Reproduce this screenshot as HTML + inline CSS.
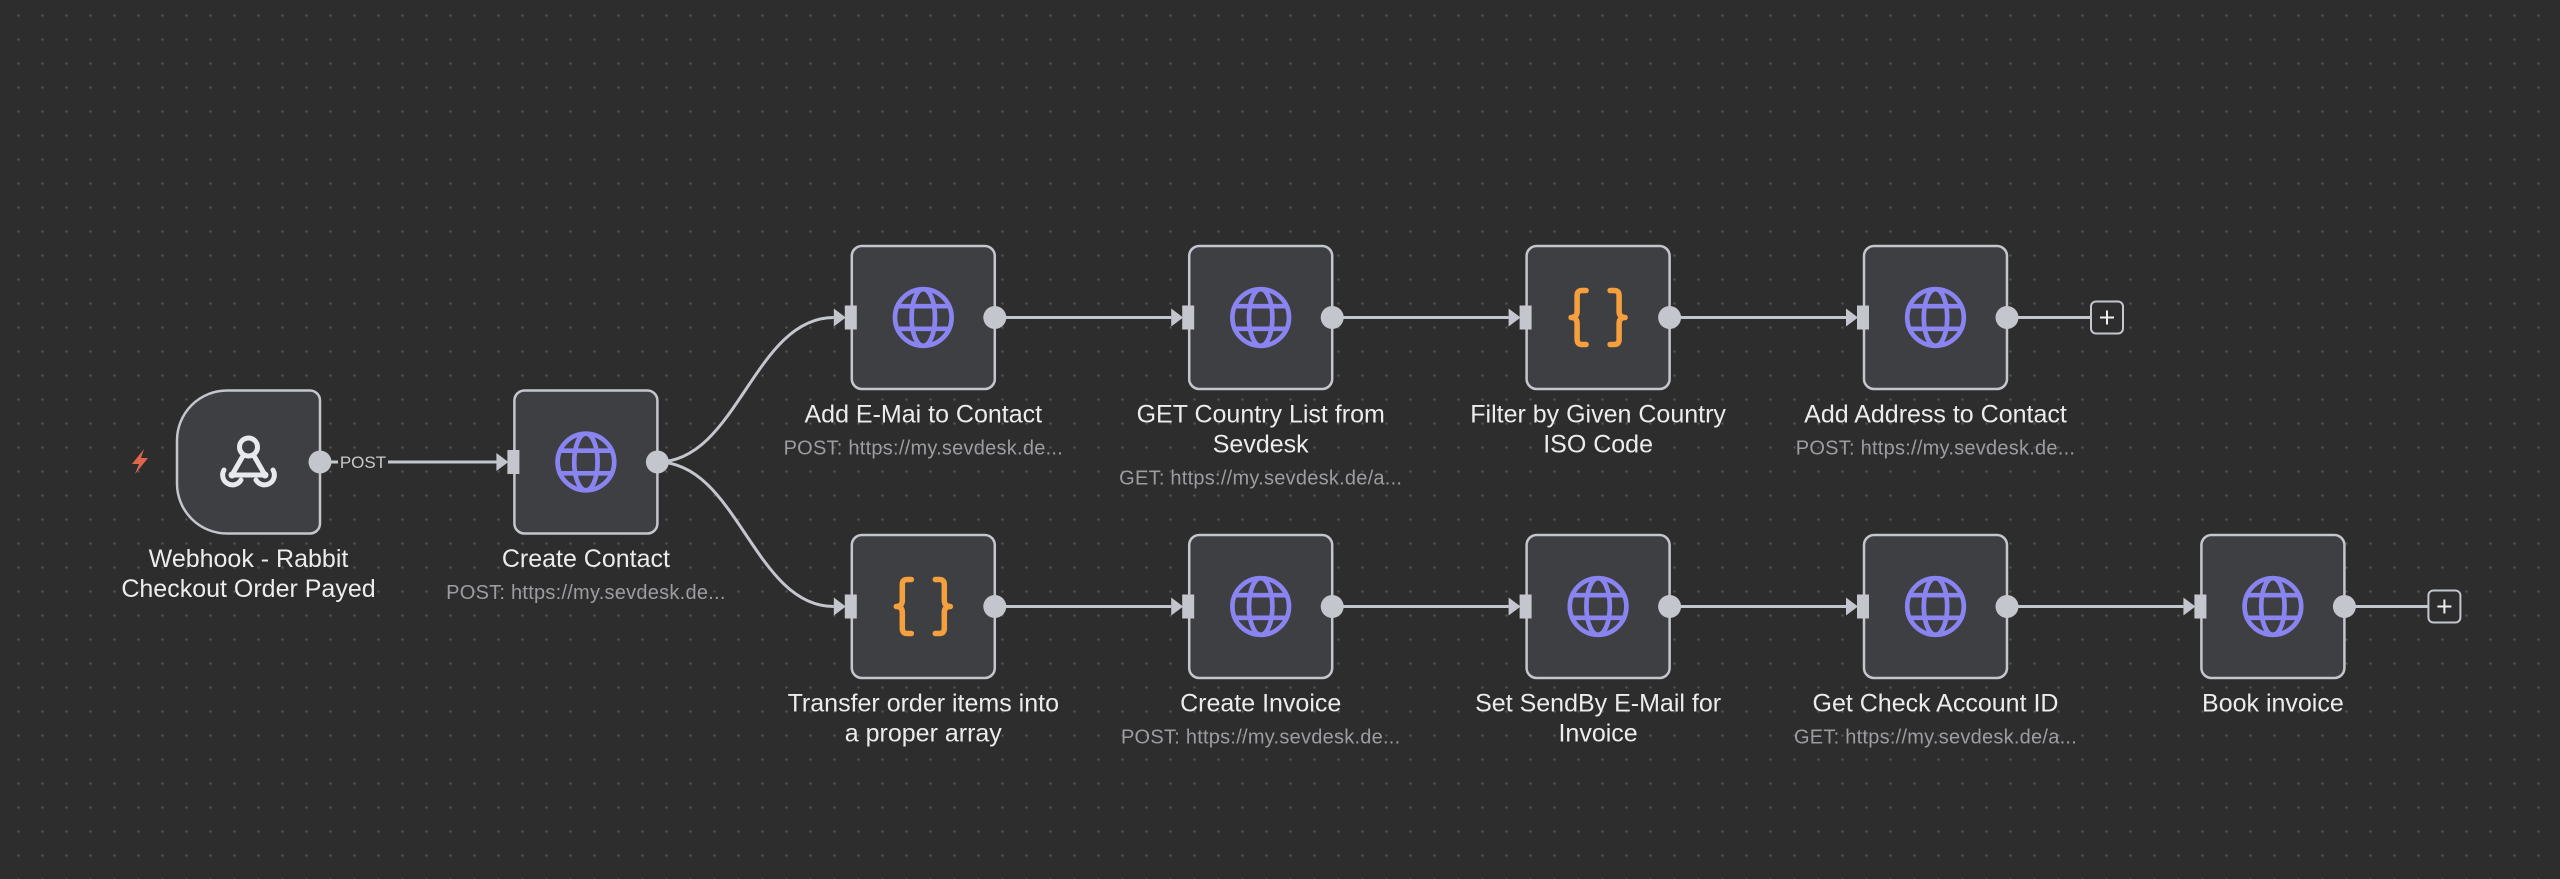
<!DOCTYPE html>
<html>
<head>
<meta charset="utf-8">
<style>
  html, body { margin:0; padding:0; background:#2d2d2d; }
  body { width:2560px; height:879px; overflow:hidden; }
  svg { display:block; }
  .t { font-family:"Liberation Sans", Arial, sans-serif; font-size:25px; fill:#ececec; text-anchor:middle; }
  .s { font-family:"Liberation Sans", Arial, sans-serif; font-size:20px; fill:#9c9ca1; text-anchor:middle; letter-spacing:0.25px; }
  .lbl { font-family:"Liberation Sans", Arial, sans-serif; font-size:17px; fill:#c9c9cc; text-anchor:middle; }
</style>
</head>
<body>
<svg width="2560" height="879" viewBox="0 0 2560 879" xmlns="http://www.w3.org/2000/svg">
  <defs>
    <pattern id="dots" x="0" y="0" width="24" height="24" patternUnits="userSpaceOnUse">
      <rect x="17.5" y="14.5" width="2" height="2" fill="#595959"/>
    </pattern>
    <g id="globe" fill="none" stroke="#8a84f0" stroke-width="4.7">
      <circle cx="0" cy="0" r="28.3"/>
      <ellipse cx="0" cy="0" rx="11.7" ry="28.3"/>
      <line x1="-26" y1="-11.3" x2="26" y2="-11.3"/>
      <line x1="-26" y1="11.3" x2="26" y2="11.3"/>
    </g>
    <g id="braces" fill="none" stroke="#f5a03c" stroke-width="5.5" stroke-linecap="round" stroke-linejoin="round">
      <path d="M -12,-27 L -16,-27 Q -21,-27 -21,-22 L -21,-6 Q -21,0 -27,0 Q -21,0 -21,6 L -21,22 Q -21,27 -16,27 L -12,27"/>
      <path d="M 12,-27 L 16,-27 Q 21,-27 21,-22 L 21,-6 Q 21,0 27,0 Q 21,0 21,6 L 21,22 Q 21,27 16,27 L 12,27"/>
    </g>
    <g id="inh" fill="#c4c6cd">
      <rect x="-7" y="-12" width="12" height="24"/>
      <polygon points="-18,-9 -6,0 -18,9"/>
    </g>
    <g id="plus">
      <rect x="0" y="-16" width="32" height="32" rx="5" ry="5" fill="#2d2d2d" stroke="#c4c6cd" stroke-width="2"/>
      <line x1="9" y1="0" x2="23" y2="0" stroke="#f0f0f0" stroke-width="2"/>
      <line x1="16" y1="-7" x2="16" y2="7" stroke="#f0f0f0" stroke-width="2"/>
    </g>
  </defs>

  <rect width="2560" height="879" fill="#2d2d2d"/>
  <rect width="2560" height="879" fill="url(#dots)"/>

  <!-- connectors -->
  <g fill="none" stroke="#c4c6cd" stroke-width="3">
    <line x1="320" y1="462" x2="497" y2="462"/>
    <path d="M 657.4,462 C 737.4,462 753.8,317.5 833.8,317.5"/>
    <path d="M 657.4,462 C 737.4,462 753.8,606.5 833.8,606.5"/>
    <!-- top row -->
    <line x1="994.8" y1="317.5" x2="1171.2" y2="317.5"/>
    <line x1="1332.2" y1="317.5" x2="1508.6" y2="317.5"/>
    <line x1="1669.6" y1="317.5" x2="1846" y2="317.5"/>
    <line x1="2007" y1="317.5" x2="2091" y2="317.5"/>
    <!-- bottom row -->
    <line x1="994.8" y1="606.5" x2="1171.2" y2="606.5"/>
    <line x1="1332.2" y1="606.5" x2="1508.6" y2="606.5"/>
    <line x1="1669.6" y1="606.5" x2="1846" y2="606.5"/>
    <line x1="2007" y1="606.5" x2="2183.4" y2="606.5"/>
    <line x1="2344.4" y1="606.5" x2="2428.4" y2="606.5"/>
  </g>

  <!-- POST label -->
  <rect x="338" y="451" width="50" height="22" fill="#2d2d2d"/>
  <text class="lbl" x="363" y="468">POST</text>

  <!-- plus boxes -->
  <use href="#plus" x="2091" y="317.5"/>
  <use href="#plus" x="2428.4" y="606.5"/>

  <!-- lightning -->
  <polygon points="144,449 132,464 139,464 135,474 148,458 141,458" fill="#e0654d"/>

  <!-- webhook node -->
  <path d="M 227,390.5 H 310 A 10 10 0 0 1 320,400.5 V 523.5 A 10 10 0 0 1 310,533.5 H 227 A 50 50 0 0 1 177,483.5 V 440.5 A 50 50 0 0 1 227,390.5 Z" fill="#3e3f43" stroke="#c4c6cd" stroke-width="2.5"/>
  <g fill="none" stroke="#e8e9ee" stroke-width="5" stroke-linecap="round">
    <circle cx="248.5" cy="447" r="9"/>
    <path d="M 243.5,455 L 232,475"/>
    <path d="M 253.5,455 L 265,475"/>
    <path d="M 232,475 L 265,475"/>
    <path d="M 224,470 A 9.5 9.5 0 1 0 241,480"/>
    <path d="M 273,470 A 9.5 9.5 0 1 1 256,480"/>
  </g>
  <circle cx="232" cy="475" r="3.5" fill="#e8e9ee"/>
  <circle cx="265" cy="475" r="3.5" fill="#e8e9ee"/>

  <!-- regular nodes -->
  <g fill="#3e3f43" stroke="#c4c6cd" stroke-width="2.5">
    <rect x="514.4" y="390.5" width="143" height="143" rx="10" ry="10"/>
    <rect x="851.8" y="246" width="143" height="143" rx="10" ry="10"/>
    <rect x="1189.2" y="246" width="143" height="143" rx="10" ry="10"/>
    <rect x="1526.6" y="246" width="143" height="143" rx="10" ry="10"/>
    <rect x="1864" y="246" width="143" height="143" rx="10" ry="10"/>
    <rect x="851.8" y="535" width="143" height="143" rx="10" ry="10"/>
    <rect x="1189.2" y="535" width="143" height="143" rx="10" ry="10"/>
    <rect x="1526.6" y="535" width="143" height="143" rx="10" ry="10"/>
    <rect x="1864" y="535" width="143" height="143" rx="10" ry="10"/>
    <rect x="2201.4" y="535" width="143" height="143" rx="10" ry="10"/>
  </g>

  <!-- icons -->
  <use href="#globe" x="585.9" y="462"/>
  <use href="#globe" x="923.3" y="317.5"/>
  <use href="#globe" x="1260.7" y="317.5"/>
  <use href="#braces" x="1598.1" y="317.5"/>
  <use href="#globe" x="1935.5" y="317.5"/>
  <use href="#braces" x="923.3" y="606.5"/>
  <use href="#globe" x="1260.7" y="606.5"/>
  <use href="#globe" x="1598.1" y="606.5"/>
  <use href="#globe" x="1935.5" y="606.5"/>
  <use href="#globe" x="2272.9" y="606.5"/>

  <!-- input handles -->
  <use href="#inh" x="514.4" y="462"/>
  <use href="#inh" x="851.8" y="317.5"/>
  <use href="#inh" x="1189.2" y="317.5"/>
  <use href="#inh" x="1526.6" y="317.5"/>
  <use href="#inh" x="1864" y="317.5"/>
  <use href="#inh" x="851.8" y="606.5"/>
  <use href="#inh" x="1189.2" y="606.5"/>
  <use href="#inh" x="1526.6" y="606.5"/>
  <use href="#inh" x="1864" y="606.5"/>
  <use href="#inh" x="2201.4" y="606.5"/>

  <!-- output handles -->
  <g fill="#c4c6cd">
    <circle cx="320" cy="462" r="11.5"/>
    <circle cx="657.4" cy="462" r="11.5"/>
    <circle cx="994.8" cy="317.5" r="11.5"/>
    <circle cx="1332.2" cy="317.5" r="11.5"/>
    <circle cx="1669.6" cy="317.5" r="11.5"/>
    <circle cx="2007" cy="317.5" r="11.5"/>
    <circle cx="994.8" cy="606.5" r="11.5"/>
    <circle cx="1332.2" cy="606.5" r="11.5"/>
    <circle cx="1669.6" cy="606.5" r="11.5"/>
    <circle cx="2007" cy="606.5" r="11.5"/>
    <circle cx="2344.4" cy="606.5" r="11.5"/>
  </g>

  <!-- labels middle row -->
  <text class="t" x="248.5" y="567">Webhook - Rabbit</text>
  <text class="t" x="248.5" y="597">Checkout Order Payed</text>
  <text class="t" x="585.9" y="567">Create Contact</text>
  <text class="s" x="585.9" y="599">POST: https://my.sevdesk.de...</text>

  <!-- labels top row -->
  <text class="t" x="923.3" y="422.5">Add E-Mai to Contact</text>
  <text class="s" x="923.3" y="454.5">POST: https://my.sevdesk.de...</text>
  <text class="t" x="1260.7" y="422.5">GET Country List from</text>
  <text class="t" x="1260.7" y="452.5">Sevdesk</text>
  <text class="s" x="1260.7" y="484.5">GET: https://my.sevdesk.de/a...</text>
  <text class="t" x="1598.1" y="422.5">Filter by Given Country</text>
  <text class="t" x="1598.1" y="452.5">ISO Code</text>
  <text class="t" x="1935.5" y="422.5">Add Address to Contact</text>
  <text class="s" x="1935.5" y="454.5">POST: https://my.sevdesk.de...</text>

  <!-- labels bottom row -->
  <text class="t" x="923.3" y="711.5">Transfer order items into</text>
  <text class="t" x="923.3" y="741.5">a proper array</text>
  <text class="t" x="1260.7" y="711.5">Create Invoice</text>
  <text class="s" x="1260.7" y="743.5">POST: https://my.sevdesk.de...</text>
  <text class="t" x="1598.1" y="711.5">Set SendBy E-Mail for</text>
  <text class="t" x="1598.1" y="741.5">Invoice</text>
  <text class="t" x="1935.5" y="711.5">Get Check Account ID</text>
  <text class="s" x="1935.5" y="743.5">GET: https://my.sevdesk.de/a...</text>
  <text class="t" x="2272.9" y="711.5">Book invoice</text>
</svg>
</body>
</html>
